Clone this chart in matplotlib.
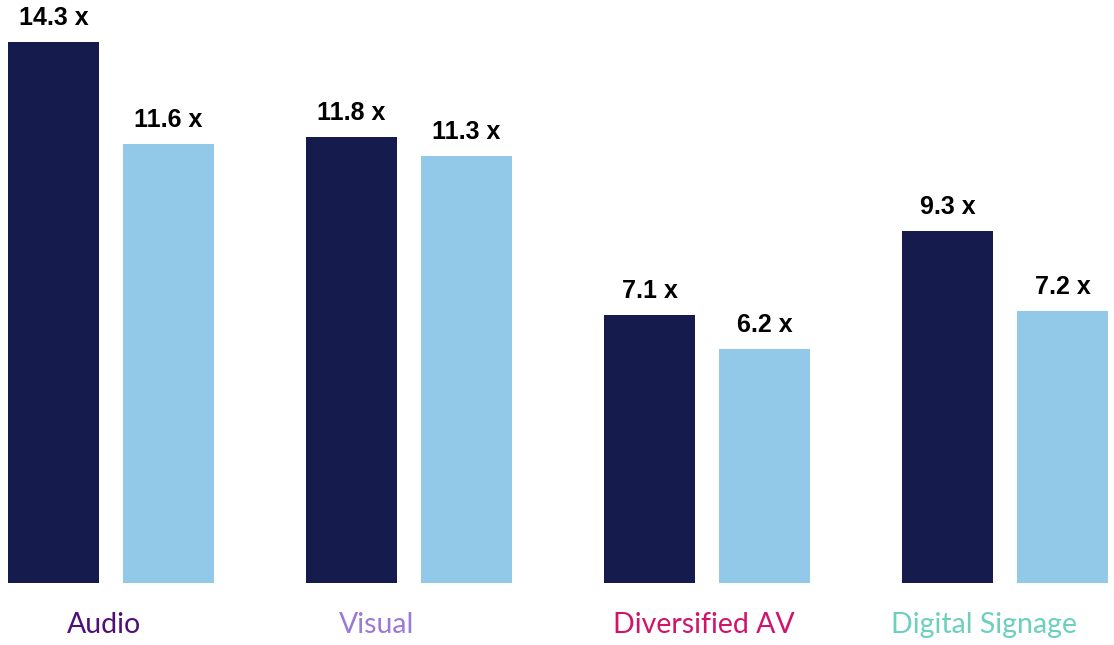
import matplotlib
matplotlib.use("Agg")
import matplotlib.pyplot as plt
import numpy as np

# data
categories = ["Audio", "Visual", "Diversified AV", "Digital Signage"]
series_a = [14.3, 11.8, 7.1, 9.3]
series_b = [11.6, 11.3, 6.2, 7.2]
cat_colors = ["#4F0F78", "#9B7AD6", "#D0146A", "#6DCFBE"]
label_shift = [-0.025, -0.11, -0.01, -0.07]

dark = "#151B4D"
light = "#92C8E8"

fig = plt.figure(figsize=(11.14, 6.45), dpi=100)
ax = fig.add_axes([0, 0, 1, 1])

x = np.arange(len(categories))
w = 0.305
off = 0.193
bars_a = ax.bar(x - off, series_a, w, color=dark)
bars_b = ax.bar(x + off, series_b, w, color=light)

for bars, vals in ((bars_a, series_a), (bars_b, series_b)):
    for b, v in zip(bars, vals):
        ax.annotate("%.1f x" % v, (b.get_x() + b.get_width() / 2, v),
                    xytext=(0, 12.2), textcoords="offset points",
                    ha="center", va="baseline", fontsize=18,
                    fontweight="bold", family="Liberation Sans", color="black")

for i, (c, col) in enumerate(zip(categories, cat_colors)):
    ax.text(x[i] + label_shift[i], -1.32, c, ha="center", va="baseline",
            fontsize=20.5, family="Lato", color=col)

ax.set_xlim(-0.3725, 3.366)
ax.set_ylim(-1.64, 15.42)
ax.axis("off")

fig.savefig("out.png", dpi=100)
